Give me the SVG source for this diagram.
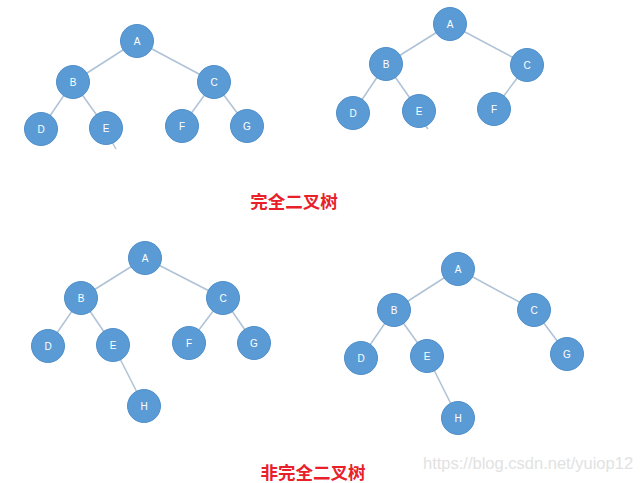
<svg xmlns="http://www.w3.org/2000/svg" width="642" height="483" viewBox="0 0 642 483">
<style>
.n circle{fill:#5B9BD5;stroke:#4F8FCB;stroke-width:1}
.n text{fill:#FFFFFF;font-family:"Liberation Sans",Arial,sans-serif;font-size:10px;text-anchor:middle;dominant-baseline:central}
.e line{stroke:#AFC2D6;stroke-width:1.5}
.t{fill:#E8202A;font-family:"Noto Sans CJK SC",sans-serif;font-weight:bold;font-size:17.5px;text-anchor:middle;dominant-baseline:central}
.w{fill:#E2E2E2;font-family:"Liberation Sans",Arial,sans-serif;font-size:16.5px}
</style>
<rect width="642" height="483" fill="#FFFFFF"/>
<g id="connectors" class="e">
<line x1="137" y1="41" x2="73" y2="82"/><line x1="137" y1="41" x2="214" y2="82"/>
<line x1="73" y1="82" x2="41" y2="129"/><line x1="73" y1="82" x2="106" y2="128"/>
<line x1="214" y1="82" x2="182" y2="126"/><line x1="214" y1="82" x2="247" y2="126"/>
<line x1="112" y1="142" x2="116" y2="149"/>
<line x1="450" y1="24" x2="386" y2="64"/><line x1="450" y1="24" x2="527" y2="65"/>
<line x1="386" y1="64" x2="353" y2="113"/><line x1="386" y1="64" x2="419" y2="111"/>
<line x1="527" y1="65" x2="494" y2="109"/>
<line x1="425" y1="125" x2="428" y2="129"/>
<line x1="145" y1="258" x2="81" y2="298"/><line x1="145" y1="258" x2="223" y2="298"/>
<line x1="81" y1="298" x2="48" y2="346"/><line x1="81" y1="298" x2="113" y2="345"/>
<line x1="223" y1="298" x2="189" y2="343"/><line x1="223" y1="298" x2="254" y2="343"/>
<line x1="113" y1="345" x2="144" y2="406"/>
<line x1="458" y1="269" x2="394" y2="310"/><line x1="458" y1="269" x2="534" y2="310"/>
<line x1="394" y1="310" x2="361" y2="358"/><line x1="394" y1="310" x2="427" y2="356"/>
<line x1="534" y1="310" x2="567" y2="354"/>
<line x1="427" y1="356" x2="458" y2="418"/>
</g>
<g id="t1A" class="n"><circle cx="137" cy="41" r="16.5"/><text x="137" y="41">A</text></g>
<g id="t1B" class="n"><circle cx="73" cy="82" r="16.5"/><text x="73" y="82">B</text></g>
<g id="t1C" class="n"><circle cx="214" cy="82" r="16.5"/><text x="214" y="82">C</text></g>
<g id="t1D" class="n"><circle cx="41" cy="129" r="16.5"/><text x="41" y="129">D</text></g>
<g id="t1E" class="n"><circle cx="106" cy="128" r="16.5"/><text x="106" y="128">E</text></g>
<g id="t1F" class="n"><circle cx="182" cy="126" r="16.5"/><text x="182" y="126">F</text></g>
<g id="t1G" class="n"><circle cx="247" cy="126" r="16.5"/><text x="247" y="126">G</text></g>
<g id="t2A" class="n"><circle cx="450" cy="24" r="16.5"/><text x="450" y="24">A</text></g>
<g id="t2B" class="n"><circle cx="386" cy="64" r="16.5"/><text x="386" y="64">B</text></g>
<g id="t2C" class="n"><circle cx="527" cy="65" r="16.5"/><text x="527" y="65">C</text></g>
<g id="t2D" class="n"><circle cx="353" cy="113" r="16.5"/><text x="353" y="113">D</text></g>
<g id="t2E" class="n"><circle cx="419" cy="111" r="16.5"/><text x="419" y="111">E</text></g>
<g id="t2F" class="n"><circle cx="494" cy="109" r="16.5"/><text x="494" y="109">F</text></g>
<text id="title1" class="t" x="294" y="200">完全二叉树</text>
<g id="t3A" class="n"><circle cx="145" cy="258" r="16.5"/><text x="145" y="258">A</text></g>
<g id="t3B" class="n"><circle cx="81" cy="298" r="16.5"/><text x="81" y="298">B</text></g>
<g id="t3C" class="n"><circle cx="223" cy="298" r="16.5"/><text x="223" y="298">C</text></g>
<g id="t3D" class="n"><circle cx="48" cy="346" r="16.5"/><text x="48" y="346">D</text></g>
<g id="t3E" class="n"><circle cx="113" cy="345" r="16.5"/><text x="113" y="345">E</text></g>
<g id="t3F" class="n"><circle cx="189" cy="343" r="16.5"/><text x="189" y="343">F</text></g>
<g id="t3G" class="n"><circle cx="254" cy="343" r="16.5"/><text x="254" y="343">G</text></g>
<g id="t3H" class="n"><circle cx="144" cy="406" r="16.5"/><text x="144" y="406">H</text></g>
<g id="t4A" class="n"><circle cx="458" cy="269" r="16.5"/><text x="458" y="269">A</text></g>
<g id="t4B" class="n"><circle cx="394" cy="310" r="16.5"/><text x="394" y="310">B</text></g>
<g id="t4C" class="n"><circle cx="534" cy="310" r="16.5"/><text x="534" y="310">C</text></g>
<g id="t4D" class="n"><circle cx="361" cy="358" r="16.5"/><text x="361" y="358">D</text></g>
<g id="t4E" class="n"><circle cx="427" cy="356" r="16.5"/><text x="427" y="356">E</text></g>
<g id="t4G" class="n"><circle cx="567" cy="354" r="16.5"/><text x="567" y="354">G</text></g>
<g id="t4H" class="n"><circle cx="458" cy="418" r="16.5"/><text x="458" y="418">H</text></g>
<text id="title2" class="t" x="313" y="471">非完全二叉树</text>
<text id="watermark" class="w" x="423" y="469">https://blog.csdn.net/yuiop12</text>
</svg>
